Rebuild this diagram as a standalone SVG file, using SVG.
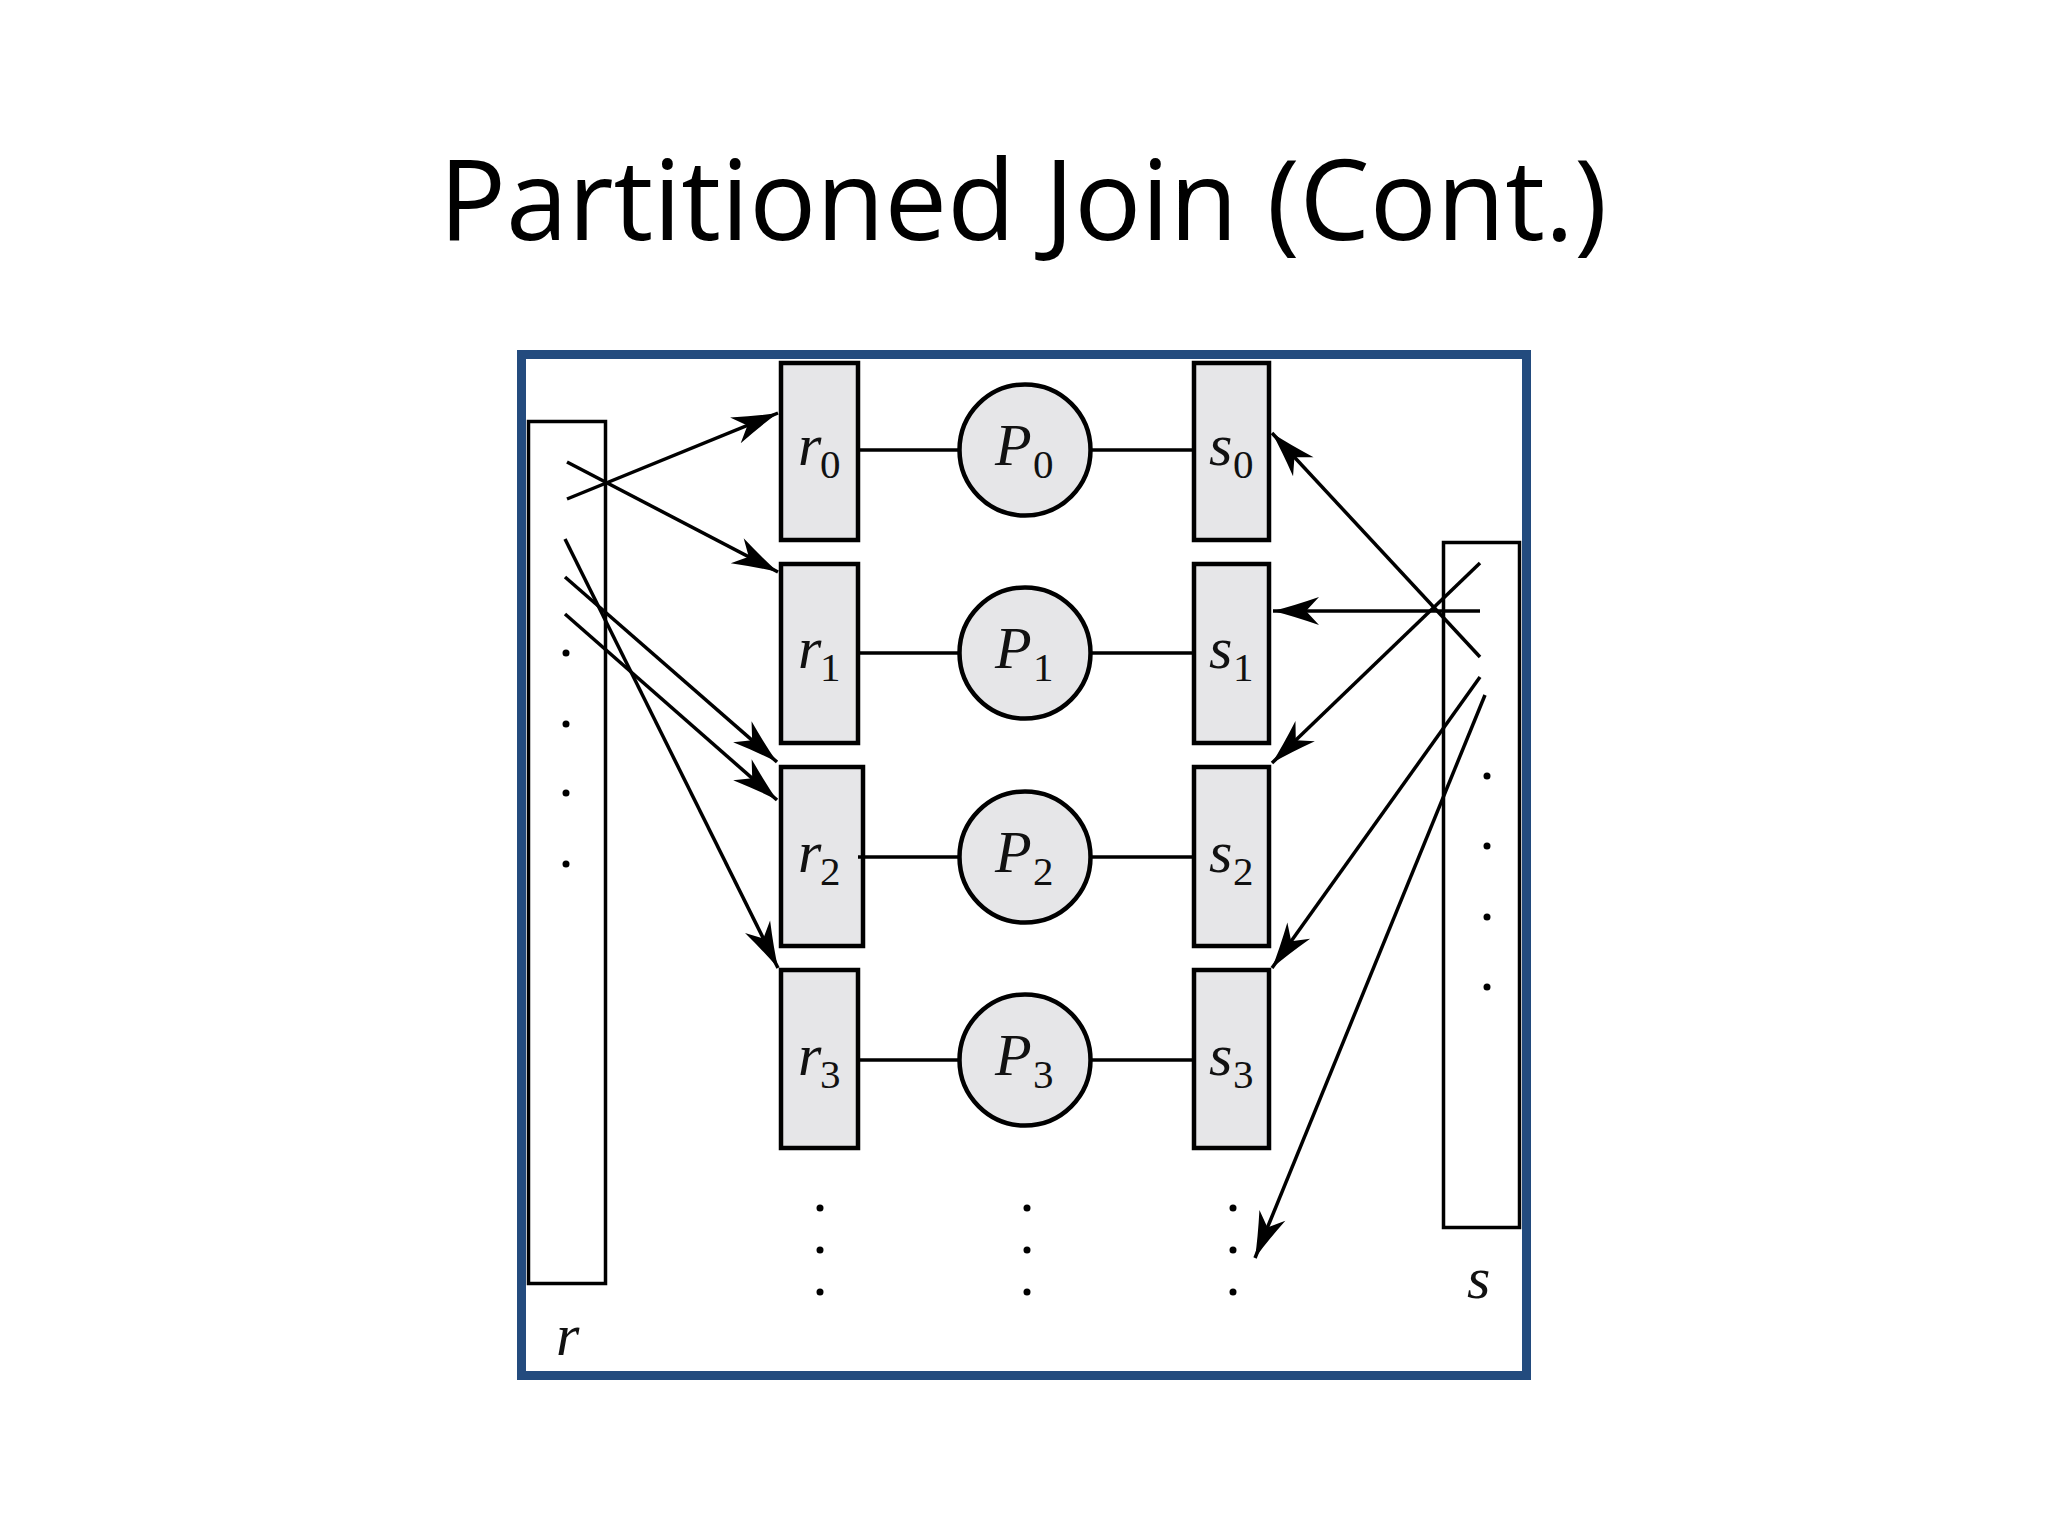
<svg xmlns="http://www.w3.org/2000/svg" width="2048" height="1536" viewBox="0 0 2048 1536">
<style>
.frame{fill:#ffffff;stroke:#234b7e;stroke-width:9}
.rel{fill:#ffffff;stroke:#000;stroke-width:3.5}
.part{fill:#e6e6e8;stroke:#000;stroke-width:4.5}
.proc{fill:#e6e6e8;stroke:#000;stroke-width:4.5}
.link{stroke:#000;stroke-width:3.5;fill:none}
.arr{stroke:#000;stroke-width:3.5;fill:none;marker-end:url(#ah)}
.lbl{font-family:"Liberation Serif","DejaVu Serif",serif;font-style:italic;font-size:60px;fill:#111}
.sub{font-family:"Liberation Serif","DejaVu Serif",serif;font-size:41px;fill:#111}
.dot{fill:#000}
.title{font-family:"Open Sans","Noto Sans",sans-serif;font-size:112px;fill:#000}
</style>
<defs>
<marker id="ah" markerUnits="userSpaceOnUse" markerWidth="60" markerHeight="40" viewBox="-50 -20 60 40" refX="0" refY="0" orient="auto">
<path d="M0,0 Q-20,-5 -46,-14 L-33,0 L-46,14 Q-20,5 0,0 Z" fill="#000"/>
</marker>
</defs>
<rect width="2048" height="1536" fill="#ffffff"/>
<text class="title" x="1023" y="240" text-anchor="middle" textLength="1168" lengthAdjust="spacingAndGlyphs">Partitioned Join (Cont.)</text>
<rect class="frame" x="521.5" y="354.5" width="1005" height="1021"/>

<g id="relation-r">
<rect class="rel" x="528.5" y="421.5" width="77" height="862"/>
<circle class="dot" cx="566" cy="653" r="3.5"/>
<circle class="dot" cx="566" cy="724" r="3.5"/>
<circle class="dot" cx="566" cy="793" r="3.5"/>
<circle class="dot" cx="566" cy="864" r="3.5"/>
<text class="lbl" x="556" y="1355">r</text>
</g>
<g id="relation-s">
<rect class="rel" x="1443.5" y="542.5" width="76" height="685"/>
<circle class="dot" cx="1487" cy="776" r="3.5"/>
<circle class="dot" cx="1487" cy="846" r="3.5"/>
<circle class="dot" cx="1487" cy="917" r="3.5"/>
<circle class="dot" cx="1487" cy="987" r="3.5"/>
<text class="lbl" x="1467" y="1298">s</text>
</g>

<g id="r0"><rect class="part" x="781" y="363" width="77" height="177"/><text class="lbl" x="798" y="465">r</text><text class="sub" x="820" y="478">0</text></g>
<g id="r1"><rect class="part" x="781" y="564" width="77" height="179"/><text class="lbl" x="798" y="668">r</text><text class="sub" x="820" y="681">1</text></g>
<g id="r2"><rect class="part" x="781" y="767" width="82" height="179"/><text class="lbl" x="798" y="872">r</text><text class="sub" x="820" y="885">2</text></g>
<g id="r3"><rect class="part" x="781" y="970" width="77" height="178"/><text class="lbl" x="798" y="1075">r</text><text class="sub" x="820" y="1088">3</text></g>

<g id="P0"><circle class="proc" cx="1025" cy="450" r="65.5"/><text class="lbl" x="995" y="465">P</text><text class="sub" x="1033" y="478">0</text></g>
<g id="P1"><circle class="proc" cx="1025" cy="653" r="65.5"/><text class="lbl" x="995" y="668">P</text><text class="sub" x="1033" y="681">1</text></g>
<g id="P2"><circle class="proc" cx="1025" cy="857" r="65.5"/><text class="lbl" x="995" y="872">P</text><text class="sub" x="1033" y="885">2</text></g>
<g id="P3"><circle class="proc" cx="1025" cy="1060" r="65.5"/><text class="lbl" x="995" y="1075">P</text><text class="sub" x="1033" y="1088">3</text></g>

<g id="s0"><rect class="part" x="1194" y="363" width="75" height="177"/><text class="lbl" x="1209" y="465">s</text><text class="sub" x="1233" y="478">0</text></g>
<g id="s1"><rect class="part" x="1194" y="564" width="75" height="179"/><text class="lbl" x="1209" y="668">s</text><text class="sub" x="1233" y="681">1</text></g>
<g id="s2"><rect class="part" x="1194" y="767" width="75" height="179"/><text class="lbl" x="1209" y="872">s</text><text class="sub" x="1233" y="885">2</text></g>
<g id="s3"><rect class="part" x="1194" y="970" width="75" height="178"/><text class="lbl" x="1209" y="1075">s</text><text class="sub" x="1233" y="1088">3</text></g>

<g id="more">
<circle class="dot" cx="820" cy="1208" r="3.5"/><circle class="dot" cx="820" cy="1250" r="3.5"/><circle class="dot" cx="820" cy="1292" r="3.5"/>
<circle class="dot" cx="1027" cy="1208" r="3.5"/><circle class="dot" cx="1027" cy="1250" r="3.5"/><circle class="dot" cx="1027" cy="1292" r="3.5"/>
<circle class="dot" cx="1233" cy="1208" r="3.5"/><circle class="dot" cx="1233" cy="1250" r="3.5"/><circle class="dot" cx="1233" cy="1292" r="3.5"/>
</g>

<g id="connectors">
<line class="link" x1="860" y1="450" x2="959" y2="450"/>
<line class="link" x1="1091" y1="450" x2="1192" y2="450"/>
<line class="link" x1="860" y1="653" x2="959" y2="653"/>
<line class="link" x1="1091" y1="653" x2="1192" y2="653"/>
<line class="link" x1="858" y1="857" x2="959" y2="857"/>
<line class="link" x1="1091" y1="857" x2="1192" y2="857"/>
<line class="link" x1="860" y1="1060" x2="959" y2="1060"/>
<line class="link" x1="1091" y1="1060" x2="1192" y2="1060"/>

<line class="arr" x1="567" y1="499" x2="778" y2="413"/>
<line class="arr" x1="567" y1="462" x2="778" y2="572"/>
<line class="arr" x1="565" y1="539" x2="778" y2="968"/>
<line class="arr" x1="565" y1="577" x2="777" y2="762"/>
<line class="arr" x1="565" y1="614" x2="777" y2="800"/>

<line class="arr" x1="1480" y1="657" x2="1272" y2="433"/>
<line class="arr" x1="1480" y1="611" x2="1273" y2="611"/>
<line class="arr" x1="1480" y1="563" x2="1272" y2="763"/>
<line class="arr" x1="1480" y1="677" x2="1272" y2="968"/>
<line class="arr" x1="1485" y1="695" x2="1255" y2="1258"/>
</g>
</svg>
